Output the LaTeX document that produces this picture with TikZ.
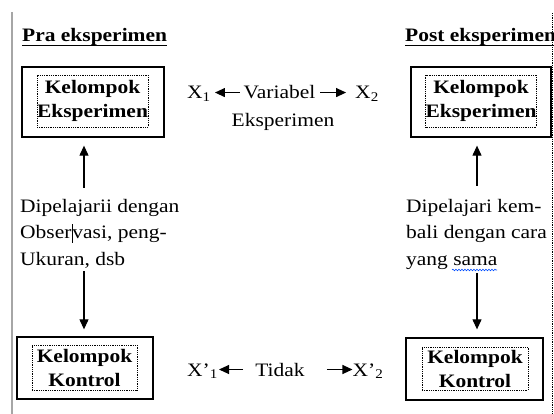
\documentclass[tikz,border=0pt]{standalone}
\usepackage{fontspec}
\setmainfont[FakeStretch=1.13]{Liberation Serif}
\usetikzlibrary{arrows.meta,decorations.pathmorphing}
\begin{document}
\begin{tikzpicture}[x=1pt,y=-1pt,
  every node/.style={font=\fontsize{19}{24}\selectfont, inner sep=0pt},
  outerbox/.style={draw, line width=1.3pt},
  innerbox/.style={draw, line width=0.7pt, dash pattern=on 0.9pt off 0.9pt, align=center, font=\bfseries\fontsize{19}{24}\selectfont},
  titletext/.style={anchor=base west, font=\bfseries\fontsize{19}{24}\selectfont},
  bodytext/.style={anchor=north west, align=left, font=\fontsize{19}{26.5}\selectfont},
  arr/.style={-{Triangle[length=10pt,width=9pt]}, line width=1.1pt},
  wavy/.style={draw=blue!70!cyan, line width=0.6pt, decorate, decoration={snake, amplitude=0.8pt, segment length=3pt}}
]
\useasboundingbox (0,0) rectangle (554,414);

% page margins
\draw[gray!70, line width=1.6pt] (12,12) -- (12,414);
\draw[line width=0.7pt, dash pattern=on 0.9pt off 0.9pt] (552.5,13) -- (552.5,414);

% titles
\node[titletext] (pra) at (22,42) {Pra eksperimen};
\draw[line width=1.2pt] ([yshift=-3.5pt]pra.base west) -- ([yshift=-3.5pt]pra.base east);
\node[titletext] (post) at (405,42) {Post eksperimen};
\draw[line width=1.2pt] ([yshift=-3.5pt]post.base west) -- ([yshift=-3.5pt]post.base east);

% boxes
\node[outerbox, minimum width=142pt, minimum height=70pt] (ke1) at (93,102) {};
\node[innerbox, minimum width=111pt, minimum height=52pt] (ike1) at (92.5,101) {Kelompok\\Eksperimen};
\node[outerbox, minimum width=140pt, minimum height=70pt] (ke2) at (481,102) {};
\node[innerbox, minimum width=110pt, minimum height=52pt] (ike2) at (481,101) {Kelompok\\Eksperimen};
\node[outerbox, minimum width=136pt, minimum height=62pt] (kk1) at (85,368) {};
\node[innerbox, minimum width=105pt, minimum height=45pt] (ikk1) at (84.5,367.5) {Kelompok\\Kontrol};
\node[outerbox, minimum width=137pt, minimum height=62pt] (kk2) at (474.5,369) {};
\node[innerbox, minimum width=106pt, minimum height=43pt] (ikk2) at (475,368.5) {Kelompok\\Kontrol};

% side texts
\node[bodytext] (t1) at (20,199) {Dipelajarii dengan\\Obser\kern0.2pt\rule[-4pt]{0.6pt}{19pt}\kern0.2pt vasi, peng-\\Ukuran, dsb};
\node[bodytext] (t2) at (406,199) {Dipelajari kem-\\bali dengan cara\\yang sama};
\draw[wavy] (452,270) -- (497,270);

% vertical arrows
\draw[arr] ([xshift=-1pt,yshift=11pt]t1.north -| kk1.north) -- ([xshift=-1pt,yshift=-8pt]kk1.north |- ke1.south);
\draw[arr] ([xshift=-1pt]kk1.north |- 0,271) -- ([xshift=-1pt,yshift=7pt]kk1.north);
\draw[arr] ([xshift=2.5pt]kk2.north |- 0,186) -- ([xshift=2.5pt,yshift=-8pt]kk2.north |- ke2.south);
\draw[arr] ([xshift=2.5pt]kk2.north |- 0,273) -- ([xshift=2.5pt,yshift=8pt]kk2.north);

% middle top
\node[anchor=base] (x1) at (199,99) {X\textsubscript{1}};
\node[anchor=base] (var) at (279.5,99) {Variabel};
\node[anchor=base] (x2) at (367,99) {X\textsubscript{2}};
\node[anchor=base] (eks) at (283,127) {Eksperimen};
\draw[arr, shorten <=4pt, shorten >=4pt] (var.west) -- (x1.east |- var.west);
\draw[arr, shorten <=5pt, shorten >=9pt] (var.east) -- (x2.west |- var.east);

% middle bottom
\node[anchor=base] (y1) at (202.5,376) {X’\textsubscript{1}};
\node[anchor=base] (tid) at (280,376) {Tidak};
\node[anchor=base] (y2) at (368,376) {X’\textsubscript{2}};
\draw[arr, shorten <=12pt, shorten >=1pt] (tid.west) -- (y1.east |- tid.west);
\draw[arr, shorten <=22pt, shorten >=0pt] (tid.east) -- (y2.west |- tid.east);
\end{tikzpicture}
\end{document}
